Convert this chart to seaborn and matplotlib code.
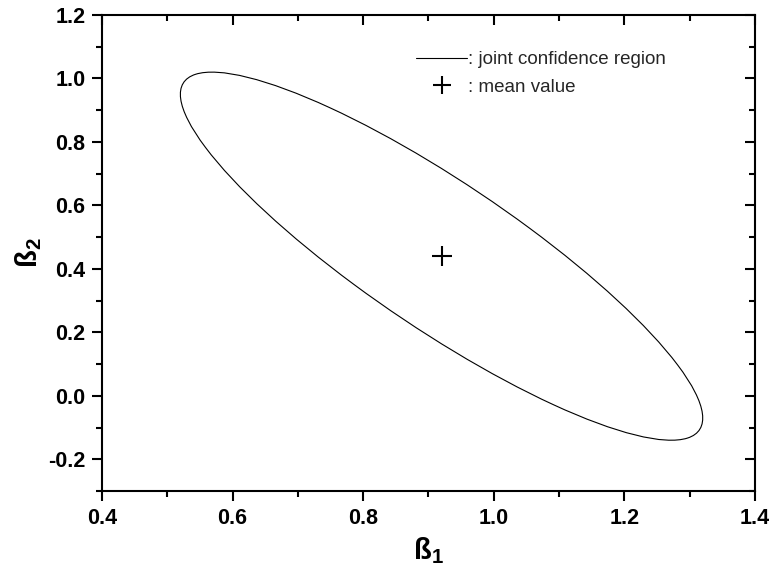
import numpy as np
import matplotlib
matplotlib.use("Agg")
import matplotlib.pyplot as plt
import seaborn as sns
from matplotlib.patches import Ellipse
from matplotlib.lines import Line2D
from matplotlib.ticker import MultipleLocator

# --- Data ---
mean_b1 = [0.92]
mean_b2 = [0.44]
# covariance-like shape matrix of the joint confidence region (b1, b2)
region_cov = [[0.160, -0.204],
              [-0.204, 0.3364]]

x_ticks = [0.4, 0.6, 0.8, 1.0, 1.2, 1.4]
y_ticks = [-0.2, 0.0, 0.2, 0.4, 0.6, 0.8, 1.0, 1.2]

sns.set_theme(style="ticks")
plt.rcParams['font.family'] = ['Liberation Sans', 'DejaVu Sans']
plt.rcParams['mathtext.fontset'] = 'custom'
plt.rcParams['mathtext.rm'] = 'Liberation Sans:bold'
plt.rcParams['mathtext.bf'] = 'Liberation Sans:bold'

fig, ax = plt.subplots(figsize=(7.71, 5.75), dpi=100)
fig.subplots_adjust(left=0.1323, right=0.9792, top=0.9739, bottom=0.1461)

# confidence region ellipse from eigen decomposition
vals, vecs = np.linalg.eigh(np.array(region_cov))
order = vals.argsort()[::-1]
vals, vecs = vals[order], vecs[:, order]
angle = np.degrees(np.arctan2(vecs[1, 0], vecs[0, 0]))
ell = Ellipse((mean_b1[0], mean_b2[0]), 2 * np.sqrt(vals[0]), 2 * np.sqrt(vals[1]),
              angle=angle, fill=False, edgecolor='black', linewidth=0.8)
ax.add_patch(ell)

sns.scatterplot(x=mean_b1, y=mean_b2, marker='+', s=200, color='black',
                linewidth=1.5, ax=ax, legend=False)

ax.set_xlim(0.4, 1.4)
ax.set_ylim(-0.3, 1.2)
ax.set_xticks(x_ticks)
ax.set_yticks(y_ticks)
ax.set_xticklabels([f"{v:.1f}" for v in x_ticks])
ax.set_yticklabels([f"{v:.1f}" for v in y_ticks])
ax.xaxis.set_minor_locator(MultipleLocator(0.1))
ax.yaxis.set_minor_locator(MultipleLocator(0.1))

for s in ax.spines.values():
    s.set_linewidth(1.5)
    s.set_color('black')

ax.tick_params(which='both', direction='out', width=1.5, color='black',
               labelsize=15.5, labelcolor='black')
ax.tick_params(which='major', length=7, pad=5)
ax.tick_params(which='minor', length=4)
ax.tick_params(which='both', top=True, right=True)
for t in ax.get_xticklabels() + ax.get_yticklabels():
    t.set_fontweight('bold')

# top/right ticks point inward
for tick in ax.xaxis.get_major_ticks() + ax.xaxis.get_minor_ticks():
    tick.tick2line.set_marker(matplotlib.markers.TICKDOWN)
for tick in ax.yaxis.get_major_ticks() + ax.yaxis.get_minor_ticks():
    tick.tick2line.set_marker(matplotlib.markers.TICKLEFT)

ax.set_xlabel(r"ß$_{\mathbf{1}}$", fontsize=21, fontweight='bold', color='black', labelpad=5)
ax.set_ylabel(r"ß$_{\mathbf{2}}$", fontsize=21, fontweight='bold', color='black', labelpad=3)

handles = [
    Line2D([], [], color='black', linewidth=0.8),
    Line2D([], [], color='black', marker='+', linestyle='none', markersize=13, markeredgewidth=1.5),
]
ax.legend(handles, [": joint confidence region", ": mean value"], loc='upper left',
          bbox_to_anchor=(0.469, 0.94), frameon=False, fontsize=13.5,
          handlelength=2.75, handletextpad=0.05, labelspacing=0.55, borderaxespad=0)

plt.savefig("out.png", dpi=100)
